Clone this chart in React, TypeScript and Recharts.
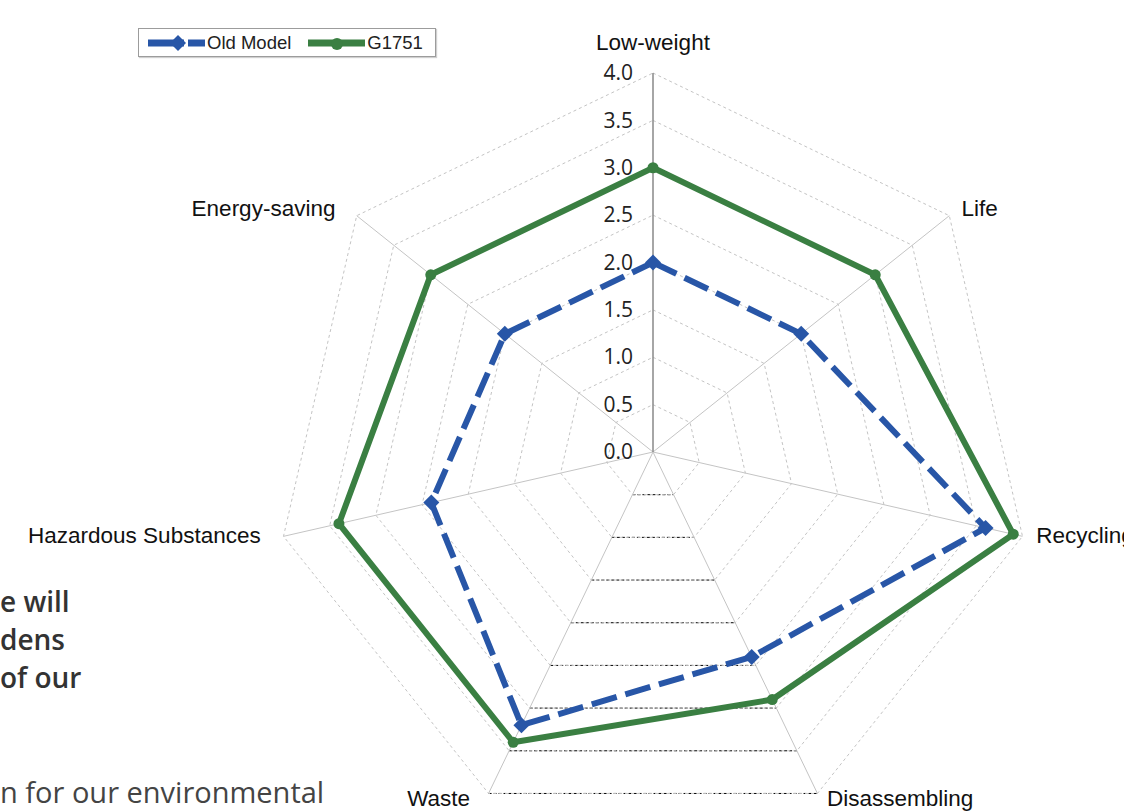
import React from 'react';
import { RadarChart, Radar, PolarGrid, PolarAngleAxis, PolarRadiusAxis, Legend } from 'recharts';

const subjects = ['Low-weight', 'Life', 'Recycling', 'Disassembling', 'Waste', 'Hazardous Substances', 'Energy-saving'];
const seriesNames = ['Old Model', 'G1751'];
const oldModel = [2.0, 2.0, 3.6, 2.4, 3.2, 2.4, 2.0];
const g1751 = [3.0, 3.0, 3.9, 2.9, 3.4, 3.4, 3.0];
const radiusTicks = [0, 0.5, 1, 1.5, 2, 2.5, 3, 3.5, 4];

const pageLines = ['e will', 'dens', 'of our'];
const pageFooter = 'n for our environmental';

const BLUE = '#2856a7';
const GREEN = '#3a7f42';
const W = 1124;
const H = 812;
const CX = 653;
const CY = 452;
const R = 379;
const MAX = 4;

const data = subjects.map((s, i) => ({ subject: s, old: oldModel[i], g: g1751[i] }));

function RadiusTick(props: any) {
  const { x, y, payload } = props;
  return (
    <text x={x - 20} y={y} dy="0.34em" textAnchor="end" fontFamily="Open Sans" fontSize={21} fill="#222">
      {Number(payload.value).toFixed(1)}
    </text>
  );
}

function AngleTick(props: any) {
  const { x, y, payload, textAnchor } = props;
  let dx = 0;
  let ty = y + 5;
  if (textAnchor === 'start') dx = 6;
  else if (textAnchor === 'end') dx = -15;
  else ty = y - 15;
  return (
    <text x={x + dx} y={ty} textAnchor={textAnchor} fontFamily="Liberation Sans, Arial" fontSize={22.5} fill="#111">
      {payload.value}
    </text>
  );
}

function diamondDot(p: any) {
  const s = 8;
  return (
    <path
      key={`d-${p.index}`}
      d={`M${p.cx},${p.cy - s}L${p.cx + s},${p.cy}L${p.cx},${p.cy + s}L${p.cx - s},${p.cy}Z`}
      fill={BLUE}
    />
  );
}

function circleDot(p: any) {
  return <circle key={`c-${p.index}`} cx={p.cx} cy={p.cy} r={5.5} fill={GREEN} />;
}

function LegendBox(props: any) {
  const items = [...(props.payload || [])].sort(
    (a: any, b: any) => seriesNames.indexOf(a.value) - seriesNames.indexOf(b.value)
  );
  return (
    <div
      style={{
        width: 298,
        height: 29,
        boxSizing: 'border-box',
        border: '1px solid #9c9c9c',
        boxShadow: '1px 1px 1px #d0d0d0',
        background: '#fff',
        display: 'flex',
        alignItems: 'center',
        paddingLeft: 9,
        fontFamily: 'Liberation Sans, Arial',
        fontSize: 18.5,
        color: '#222',
      }}
    >
      {items.map((it: any, i: number) => {
        const isOld = it.dataKey === 'old';
        return (
          <div key={i} style={{ display: 'flex', alignItems: 'center', marginRight: i === 0 ? 17 : 0 }}>
            <svg width={58} height={20} style={{ display: 'block' }}>
              <line
                x1={0}
                y1={10}
                x2={57}
                y2={10}
                stroke={it.color}
                strokeWidth={7}
                strokeDasharray={isOld ? '36 4' : undefined}
              />
              {isOld ? (
                <path d="M30,2L38,10L30,18L22,10Z" fill={it.color} />
              ) : (
                <circle cx={29} cy={11} r={6} fill={it.color} />
              )}
            </svg>
            <span style={{ marginLeft: 1 }}>{it.value}</span>
          </div>
        );
      })}
    </div>
  );
}

export default function App() {
  const seg = Math.sin(Math.PI / subjects.length);
  const segCos = Math.cos(Math.PI / subjects.length);
  return (
    <div style={{ position: 'fixed', left: 0, top: 0, width: W, height: H, overflow: 'hidden', background: '#fff' }}>
      {/* dark dashed bottom edges of the grid, as in the source image */}
      <svg width={W} height={H} style={{ position: 'absolute', left: 0, top: 0 }}>
        {radiusTicks
          .filter((t) => t > 0)
          .map((t) => {
            const r = (t / MAX) * R;
            return (
              <line
                key={t}
                x1={CX - r * seg}
                x2={CX + r * seg}
                y1={CY + r * segCos}
                y2={CY + r * segCos}
                stroke="#000"
                strokeWidth={1}
                strokeDasharray="3 2"
              />
            );
          })}
        {pageLines.map((s, i) => (
          <text key={s} x={0} y={612 + i * 38} fontFamily="Open Sans" fontWeight={600} fontSize={28} fill="#333">
            {s}
          </text>
        ))}
        <text x={0} y={803} fontFamily="Open Sans" fontSize={29} fill="#444">
          {pageFooter}
        </text>
      </svg>
      <div style={{ position: 'absolute', left: 0, top: 0 }}>
        <RadarChart width={W} height={H} data={data} cx={CX} cy={CY} outerRadius={R} margin={{ top: 0, right: 0, bottom: 0, left: 0 }}>
          <PolarGrid gridType="polygon" radialLines={false} stroke="#c4c4c4" strokeDasharray="3 3" />
          <PolarGrid gridType="polygon" polarRadius={[]} stroke="#c4c4c4" />
          <PolarAngleAxis dataKey="subject" tick={AngleTick} axisLine={false} tickLine={false} />
          <PolarRadiusAxis
            angle={90}
            type="number"
            domain={[0, MAX]}
            ticks={radiusTicks}
            tick={RadiusTick}
            axisLine={{ stroke: '#7f7f7f', strokeWidth: 1.2 }}
            tickLine={false}
          />
          <Radar
            name="Old Model"
            dataKey="old"
            stroke={BLUE}
            strokeWidth={6}
            strokeDasharray="26 9"
            fill="none"
            fillOpacity={0}
            dot={diamondDot}
            isAnimationActive={false}
          />
          <Radar
            name="G1751"
            dataKey="g"
            stroke={GREEN}
            strokeWidth={6}
            fill="none"
            fillOpacity={0}
            dot={circleDot}
            isAnimationActive={false}
          />
          <Legend
            content={LegendBox}
            wrapperStyle={{ position: 'absolute', left: 138, top: 28, width: 298, height: 29 }}
          />
        </RadarChart>
      </div>
    </div>
  );
}
